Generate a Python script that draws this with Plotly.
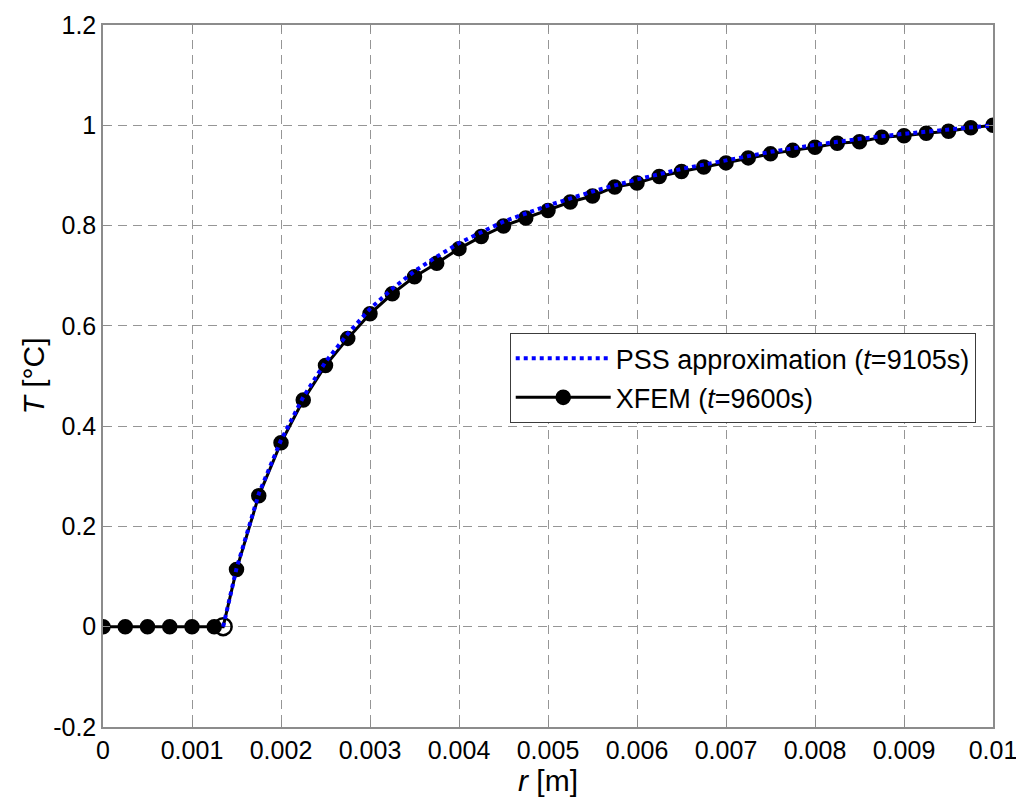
import plotly.graph_objects as go

# XFEM solution (t=9600s), sampled every 0.25 mm plus the interface point
xfem_r = [0.0, 0.00025, 0.0005, 0.00075, 0.001, 0.00125, 0.00135,
          0.0015, 0.00175, 0.002, 0.00225, 0.0025, 0.00275, 0.003, 0.00325,
          0.0035, 0.00375, 0.004, 0.00425, 0.0045, 0.00475, 0.005, 0.00525,
          0.0055, 0.00575, 0.006, 0.00625, 0.0065, 0.00675, 0.007, 0.00725,
          0.0075, 0.00775, 0.008, 0.00825, 0.0085, 0.00875, 0.009, 0.00925,
          0.0095, 0.00975, 0.01]
xfem_T = [0.0, 0.0, 0.0, 0.0, 0.0, 0.0, 0.0,
          0.114, 0.261, 0.367, 0.452, 0.521, 0.575, 0.624, 0.664,
          0.698, 0.725, 0.754, 0.778, 0.799, 0.815, 0.830, 0.847,
          0.859, 0.877, 0.885, 0.898, 0.908, 0.917, 0.925, 0.935,
          0.943, 0.950, 0.956, 0.964, 0.967, 0.976, 0.979, 0.984,
          0.988, 0.995, 1.0]

# PSS approximation (t=9105s)
pss_r = [0.00135, 0.0015, 0.00175, 0.002, 0.00225, 0.0025, 0.00275, 0.003,
         0.00325, 0.0035, 0.00375, 0.004, 0.0045, 0.005, 0.0055, 0.006,
         0.0065, 0.007, 0.0075, 0.008, 0.0085, 0.009, 0.0095, 0.01]
pss_T = [0.0, 0.116, 0.265, 0.372, 0.458, 0.528, 0.584, 0.634,
         0.674, 0.709, 0.738, 0.765, 0.808, 0.840, 0.868, 0.892,
         0.913, 0.931, 0.947, 0.961, 0.973, 0.983, 0.992, 1.0]

x_ticks = [0, 0.001, 0.002, 0.003, 0.004, 0.005, 0.006, 0.007, 0.008, 0.009, 0.01]
x_labels = ["0", "0.001", "0.002", "0.003", "0.004", "0.005", "0.006", "0.007", "0.008", "0.009", "0.01"]
y_ticks = [-0.2, 0, 0.2, 0.4, 0.6, 0.8, 1.0, 1.2]
y_labels = ["-0.2", "0", "0.2", "0.4", "0.6", "0.8", "1", "1.2"]

# interface point is drawn as an open circle
symbols = ["circle-open" if r == 0.00135 else "circle" for r in xfem_r]
sizes = [17 if r == 0.00135 else 13 for r in xfem_r]

fig = go.Figure()

fig.add_trace(go.Scatter(
    x=xfem_r, y=xfem_T, mode="lines+markers",
    name="XFEM (<i>t</i>=9600s)",
    line=dict(color="black", width=3),
    marker=dict(color="black", symbol=symbols, size=sizes, opacity=1,
                line=dict(color="black", width=2.5)),
    legendrank=2, legendgroup="xfem",
))

fig.add_trace(go.Scatter(
    x=pss_r, y=pss_T, mode="lines",
    name="PSS approximation (<i>t</i>=9105s)",
    line=dict(color="rgb(0,0,255)", width=4, dash="dot"),
    legendrank=1, legendgroup="pss",
))

axis_common = dict(
    showline=True, linecolor="rgb(140,140,140)", linewidth=1.5, mirror="ticks",
    ticks="inside", ticklen=7, tickcolor="rgb(140,140,140)",
    showgrid=True, gridcolor="rgb(150,150,150)", griddash="9px,6px", gridwidth=1,
    zeroline=False, ticklabeloverflow="allow", automargin=False,
    tickfont=dict(size=25, color="black"),
)

fig.update_layout(
    width=1024, height=803,
    margin=dict(l=95, r=39, t=17, b=84),
    paper_bgcolor="white",
    plot_bgcolor="white",
    font=dict(family="Liberation Sans, Arial", size=25, color="black"),
    xaxis=dict(range=[0, 0.01], tickvals=x_ticks, ticktext=x_labels,
               title=dict(text="<i>r</i> [m]", standoff=0), **axis_common),
    yaxis=dict(range=[-0.2, 1.2], tickvals=y_ticks, ticktext=y_labels,
               title=dict(text="<i>T</i> [°C]", standoff=0), **axis_common),
    legend=dict(x=0.457, y=0.561, xanchor="left", yanchor="top",
                bgcolor="white", bordercolor="rgb(60,60,60)", borderwidth=1,
                font=dict(size=27), traceorder="grouped", tracegroupgap=1,
                itemwidth=95),
    showlegend=True,
)

fig.write_html("out.html")
